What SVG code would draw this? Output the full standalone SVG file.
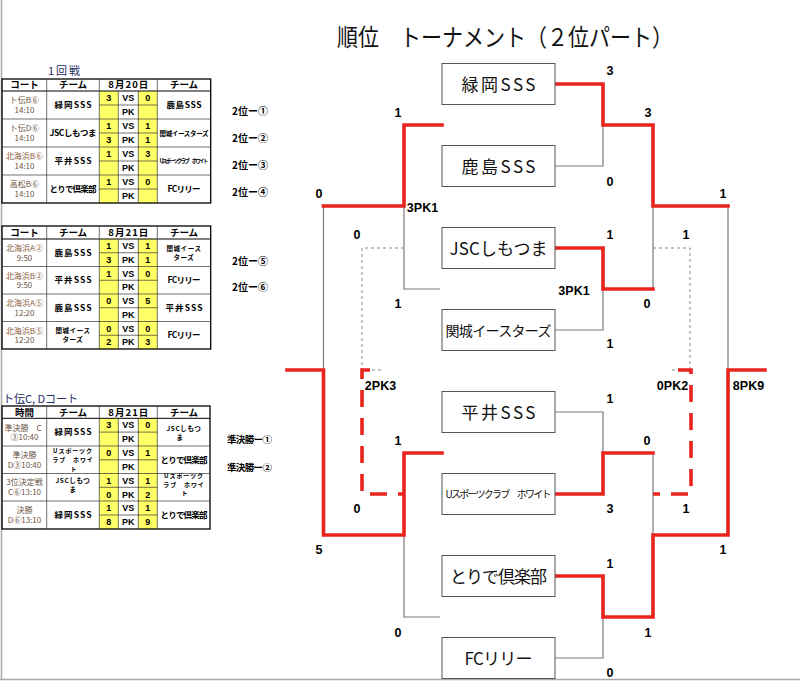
<svg xmlns="http://www.w3.org/2000/svg" width="800" height="684" viewBox="0 0 800 684">
<style>
.bg{fill:#fff}
.frame{stroke:#aaa;stroke-width:1.5;fill:none}
.box{fill:#fff;stroke:#555;stroke-width:1}
.bt{font-family:"Noto Sans CJK JP","Noto Sans",sans-serif;font-size:17px;fill:#111;text-anchor:middle}
.g{fill:none;stroke:#7a7a7a;stroke-width:1.2}
.r{fill:none;stroke:#e8241c;stroke-width:3.6;stroke-linejoin:miter;stroke-linecap:square}
.gd{fill:none;stroke:#888;stroke-width:1;stroke-dasharray:3 3}
.rd{fill:none;stroke:#e8241c;stroke-width:3.6;stroke-dasharray:17 11}
.lb{font-family:"Liberation Sans",Arial,sans-serif;font-weight:bold;font-size:12.5px;text-anchor:middle;fill:#000}
.ttl{font-family:"Noto Sans CJK JP","Noto Sans",sans-serif;font-size:24px;fill:#111}
.side{font-family:"Noto Sans CJK JP",sans-serif;font-weight:bold;font-size:10px;fill:#000}
.cap{font-family:"Noto Sans CJK JP",sans-serif;font-size:11px;fill:#1c2c60}
.yl{fill:#ffff66}
.ob{fill:none;stroke:#000;stroke-width:1.3}
.il{stroke:#333;stroke-width:0.7}
.hd{font-family:"Noto Sans CJK JP",sans-serif;font-weight:bold;font-size:9.5px;text-anchor:middle;fill:#000}
.ct{font-family:"Noto Sans CJK JP",sans-serif;font-size:8px;text-anchor:middle;fill:#6b5444}
.tm{font-family:"Noto Sans CJK JP",sans-serif;font-weight:bold;font-size:8.5px;text-anchor:middle;fill:#000}
.tm2{font-family:"Noto Sans CJK JP",sans-serif;font-weight:bold;font-size:6.5px;letter-spacing:0.6px;text-anchor:middle;fill:#000}
.tm3{font-family:"Noto Sans CJK JP",sans-serif;font-weight:bold;font-size:6px;letter-spacing:0.9px;text-anchor:middle;fill:#000}
.sc{font-family:"Liberation Sans",Arial,sans-serif;font-weight:bold;font-size:9px;text-anchor:middle;fill:#000}
</style>
<rect class="bg" x="0" y="0" width="800" height="684"/>
<g id="frame">
<line class="frame" x1="1.5" y1="0" x2="1.5" y2="680"/>
<line class="frame" x1="0" y1="679.5" x2="800" y2="679.5"/>
</g>
<g id="title"><text class="ttl" x="337" y="46" textLength="336" lengthAdjust="spacingAndGlyphs">順位　トーナメント（２位パート）</text></g>

<g id="table1">
<text class="cap" x="48" y="75" textLength="32">1回戦</text>
<rect class="yl" x="99.3" y="91" width="19" height="112"/>
<rect class="yl" x="138.3" y="91" width="19" height="112"/>
<rect class="ob" x="2" y="79" width="208.7" height="124"/>
<line x1="2" y1="91" x2="210.7" y2="91" stroke="#000" stroke-width="1"/>
<g class="il">
<line x1="46.7" y1="79" x2="46.7" y2="203"/><line x1="99.3" y1="79" x2="99.3" y2="203"/><line x1="157.3" y1="79" x2="157.3" y2="203"/>
<line x1="118.3" y1="91" x2="118.3" y2="203"/><line x1="138.3" y1="91" x2="138.3" y2="203"/>
<line x1="2" y1="119" x2="210.7" y2="119"/><line x1="2" y1="147" x2="210.7" y2="147"/><line x1="2" y1="175" x2="210.7" y2="175"/>
<line x1="99.3" y1="105" x2="157.3" y2="105"/><line x1="99.3" y1="133" x2="157.3" y2="133"/><line x1="99.3" y1="161" x2="157.3" y2="161"/><line x1="99.3" y1="189" x2="157.3" y2="189"/>
</g>
<text class="hd" x="24.5" y="88.4">コート</text><text class="hd" x="73" y="88.4">チーム</text><text class="hd" x="128.3" y="88.4" textLength="40">8月20日</text><text class="hd" x="184" y="88.4">チーム</text>
<text class="ct" x="24.5" y="102.5">ト伝B⑥<tspan x="24.5" dy="10.5">14:10</tspan></text>
<text class="tm" x="73" y="108" textLength="37">緑岡SSS</text>
<text class="sc" x="108.8" y="101.2">3</text><text class="sc" x="128.3" y="101.2">VS</text><text class="sc" x="147.8" y="101.2">0</text>
<text class="sc" x="128.3" y="115.2">PK</text>
<text class="tm" x="184" y="108" textLength="35">鹿島SSS</text>
<text class="ct" x="24.5" y="130.5">ト伝D⑥<tspan x="24.5" dy="10.5">14:10</tspan></text>
<text class="tm" x="73" y="136" textLength="47">JSCしもつま</text>
<text class="sc" x="108.8" y="129.2">1</text><text class="sc" x="128.3" y="129.2">VS</text><text class="sc" x="147.8" y="129.2">1</text>
<text class="sc" x="108.8" y="143.2">3</text><text class="sc" x="128.3" y="143.2">PK</text><text class="sc" x="147.8" y="143.2">1</text>
<text class="tm" x="184" y="135.5" style="font-size:6.5px" textLength="49">関城イースターズ</text>
<text class="ct" x="24.5" y="158.5"><tspan style="fill:#8a5a3a">北海浜B⑥</tspan><tspan x="24.5" dy="10.5">14:10</tspan></text>
<text class="tm" x="73" y="164" textLength="37">平井SSS</text>
<text class="sc" x="108.8" y="157.2">1</text><text class="sc" x="128.3" y="157.2">VS</text><text class="sc" x="147.8" y="157.2">3</text>
<text class="sc" x="128.3" y="171.2">PK</text>
<text class="tm" x="184" y="163" style="font-size:5.5px" textLength="49">Uスポーツクラブ　ホワイト</text>
<text class="ct" x="24.5" y="186.5">高松B⑥<tspan x="24.5" dy="10.5">14:10</tspan></text>
<text class="tm" x="73" y="192" textLength="47">とりで倶楽部</text>
<text class="sc" x="108.8" y="185.2">1</text><text class="sc" x="128.3" y="185.2">VS</text><text class="sc" x="147.8" y="185.2">0</text>
<text class="sc" x="128.3" y="199.2">PK</text>
<text class="tm" x="184" y="192" textLength="33">FCリリー</text>
</g>

<g id="table2">
<rect class="yl" x="99.3" y="239" width="19" height="110"/>
<rect class="yl" x="138.3" y="239" width="19" height="110"/>
<rect class="ob" x="2" y="226" width="208.7" height="123"/>
<line x1="2" y1="239" x2="210.7" y2="239" stroke="#000" stroke-width="1"/>
<g class="il">
<line x1="46.7" y1="226" x2="46.7" y2="349"/><line x1="99.3" y1="226" x2="99.3" y2="349"/><line x1="157.3" y1="226" x2="157.3" y2="349"/>
<line x1="118.3" y1="239" x2="118.3" y2="349"/><line x1="138.3" y1="239" x2="138.3" y2="349"/>
<line x1="2" y1="266.5" x2="210.7" y2="266.5"/><line x1="2" y1="294" x2="210.7" y2="294"/><line x1="2" y1="321.5" x2="210.7" y2="321.5"/>
<line x1="99.3" y1="252.75" x2="157.3" y2="252.75"/><line x1="99.3" y1="280.25" x2="157.3" y2="280.25"/><line x1="99.3" y1="307.75" x2="157.3" y2="307.75"/><line x1="99.3" y1="335.25" x2="157.3" y2="335.25"/>
</g>
<text class="hd" x="24.5" y="236">コート</text><text class="hd" x="73" y="236">チーム</text><text class="hd" x="128.3" y="236" textLength="40">8月21日</text><text class="hd" x="184" y="236">チーム</text>
<text class="ct" x="24.5" y="251.4"><tspan style="fill:#8a5a3a">北海浜A②</tspan><tspan x="24.5" dy="9.5">9:50</tspan></text>
<text class="tm" x="73" y="255.8" textLength="37">鹿島SSS</text>
<text class="sc" x="108.8" y="249.1">1</text><text class="sc" x="128.3" y="249.1">VS</text><text class="sc" x="147.8" y="249.1">1</text>
<text class="sc" x="108.8" y="262.8">3</text><text class="sc" x="128.3" y="262.8">PK</text><text class="sc" x="147.8" y="262.8">1</text>
<text class="tm2" x="184" y="250.8">関城イース<tspan x="184" dy="9.5">ターズ</tspan></text>
<text class="ct" x="24.5" y="278.9"><tspan style="fill:#8a5a3a">北海浜B②</tspan><tspan x="24.5" dy="9.5">9:50</tspan></text>
<text class="tm" x="73" y="283.3" textLength="37">平井SSS</text>
<text class="sc" x="108.8" y="276.6">1</text><text class="sc" x="128.3" y="276.6">VS</text><text class="sc" x="147.8" y="276.6">0</text>
<text class="sc" x="128.3" y="290.3">PK</text>
<text class="tm" x="184" y="283.3" textLength="33">FCリリー</text>
<text class="ct" x="24.5" y="306.4"><tspan style="fill:#8a5a3a">北海浜A⑤</tspan><tspan x="24.5" dy="9.5">12:20</tspan></text>
<text class="tm" x="73" y="310.8" textLength="37">鹿島SSS</text>
<text class="sc" x="108.8" y="304.1">0</text><text class="sc" x="128.3" y="304.1">VS</text><text class="sc" x="147.8" y="304.1">5</text>
<text class="sc" x="128.3" y="317.8">PK</text>
<text class="tm" x="184" y="310.8" textLength="37">平井SSS</text>
<text class="ct" x="24.5" y="333.9"><tspan style="fill:#8a5a3a">北海浜B⑤</tspan><tspan x="24.5" dy="9.5">12:20</tspan></text>
<text class="tm2" x="73" y="332.8">関城イース<tspan x="73" dy="9.5">ターズ</tspan></text>
<text class="sc" x="108.8" y="331.6">0</text><text class="sc" x="128.3" y="331.6">VS</text><text class="sc" x="147.8" y="331.6">0</text>
<text class="sc" x="108.8" y="345.3">2</text><text class="sc" x="128.3" y="345.3">PK</text><text class="sc" x="147.8" y="345.3">3</text>
<text class="tm" x="184" y="338.3" textLength="33">FCリリー</text>
</g>

<g id="table3">
<text class="cap" x="3" y="402.5">ト伝C, Dコート</text>
<rect class="yl" x="99.3" y="418.3" width="19" height="110.7"/>
<rect class="yl" x="138.3" y="418.3" width="19" height="110.7"/>
<rect class="ob" x="2" y="406" width="208" height="123"/>
<line x1="2" y1="418.3" x2="210" y2="418.3" stroke="#000" stroke-width="1"/>
<g class="il">
<line x1="46.7" y1="406" x2="46.7" y2="529"/><line x1="99.3" y1="406" x2="99.3" y2="529"/><line x1="157.3" y1="406" x2="157.3" y2="529"/>
<line x1="118.3" y1="418.3" x2="118.3" y2="529"/><line x1="138.3" y1="418.3" x2="138.3" y2="529"/>
<line x1="2" y1="446" x2="210" y2="446"/><line x1="2" y1="473.5" x2="210" y2="473.5"/><line x1="2" y1="501" x2="210" y2="501"/>
<line x1="99.3" y1="432.1" x2="157.3" y2="432.1"/><line x1="99.3" y1="459.8" x2="157.3" y2="459.8"/><line x1="99.3" y1="487.3" x2="157.3" y2="487.3"/><line x1="99.3" y1="515" x2="157.3" y2="515"/>
</g>
<text class="hd" x="24.5" y="415.5">時間</text><text class="hd" x="73" y="415.5">チーム</text><text class="hd" x="128.3" y="415.5" textLength="40">8月21日</text><text class="hd" x="184" y="415.5">チーム</text>
<text class="ct" x="23" y="430.6">準決勝　C<tspan x="24.5" dy="9.6">③10:40</tspan></text>
<text class="tm" x="73" y="435" textLength="37">緑岡SSS</text>
<text class="sc" x="108.8" y="428.4">3</text><text class="sc" x="128.3" y="428.4">VS</text><text class="sc" x="147.8" y="428.4">0</text>
<text class="sc" x="128.3" y="442.2">PK</text>
<text class="tm2" x="184" y="430.8">JSCしもつ<tspan x="180" dy="9.5">ま</tspan></text>
<text class="ct" x="24.5" y="457.9">準決勝<tspan x="24.5" dy="10">D③10:40</tspan></text>
<text class="tm3" x="73" y="453.3">Uスポーツク<tspan x="73" dy="8.7">ラブ　ホワイ</tspan><tspan x="74" dy="8.7">ト</tspan></text>
<text class="sc" x="108.8" y="456.2">0</text><text class="sc" x="128.3" y="456.2">VS</text><text class="sc" x="147.8" y="456.2">1</text>
<text class="sc" x="128.3" y="470.2">PK</text>
<text class="tm" x="184" y="463" textLength="47">とりで倶楽部</text>
<text class="ct" x="24.5" y="485.2">3位決定戦<tspan x="24.5" dy="10">C⑥13:10</tspan></text>
<text class="tm2" x="73" y="482.8">JSCしもつ<tspan x="73" dy="9.5">ま</tspan></text>
<text class="sc" x="108.8" y="483.7">1</text><text class="sc" x="128.3" y="483.7">VS</text><text class="sc" x="147.8" y="483.7">1</text>
<text class="sc" x="108.8" y="497.7">0</text><text class="sc" x="128.3" y="497.7">PK</text><text class="sc" x="147.8" y="497.7">2</text>
<text class="tm3" x="184" y="478">Uスポーツク<tspan x="184" dy="8.7">ラブ　ホワイ</tspan><tspan x="185" dy="8.7">ト</tspan></text>
<text class="ct" x="24.5" y="512.9">決勝<tspan x="24.5" dy="10">D⑥13:10</tspan></text>
<text class="tm" x="73" y="518" textLength="37">緑岡SSS</text>
<text class="sc" x="108.8" y="511.2">1</text><text class="sc" x="128.3" y="511.2">VS</text><text class="sc" x="147.8" y="511.2">1</text>
<text class="sc" x="108.8" y="525.2">8</text><text class="sc" x="128.3" y="525.2">PK</text><text class="sc" x="147.8" y="525.2">9</text>
<text class="tm" x="184" y="518" textLength="47">とりで倶楽部</text>
</g>

<g id="side-labels">
<text class="side" x="232" y="115">2位ー①</text>
<text class="side" x="232" y="142">2位ー②</text>
<text class="side" x="232" y="169">2位ー③</text>
<text class="side" x="232" y="196">2位ー④</text>
<text class="side" x="232" y="264.5">2位ー⑤</text>
<text class="side" x="232" y="290.5">2位ー⑥</text>
<text class="side" x="227" y="442.5" textLength="45" style="font-size:9.5px">準決勝ー①</text>
<text class="side" x="227" y="470.5" textLength="45" style="font-size:9.5px">準決勝ー②</text>
</g>

<g id="connectors">
<path class="g" d="M555,166H603V125"/>
<path class="g" d="M555,330H603V289"/>
<path class="g" d="M653,206V289"/>
<path class="g" d="M728,206V370"/>
<path class="g" d="M555,412H603V453"/>
<path class="g" d="M653,453V535"/>
<path class="g" d="M555,658H603V617"/>
<path class="g" d="M404,206V289H440"/>
<path class="g" d="M323.5,206V370"/>
<path class="g" d="M404,535V617H440"/>
<path class="gd" d="M404,248H362V370H384"/>
<path class="gd" d="M653,248H690V370H672"/>
<path class="r" d="M555,84H603V125H653V206H728"/>
<path class="r" d="M555,248H603V289H653"/>
<path class="r" d="M555,494H603V453H653"/>
<path class="r" d="M555,576H603V617H653V535H728V370H765"/>
<path class="r" d="M442,125H404V206H323.5"/>
<path class="r" d="M287,370H323.5V535H404V453H442"/>
<path class="rd" d="M370,370H362V494H404"/>
<path class="rd" d="M678,370H691V494H653"/>
</g>

<g id="node-midorioka"><rect class="box" x="442" y="63.5" width="113" height="41"/><text class="bt" x="498.5" y="90.5" textLength="74">緑岡SSS</text></g>
<g id="node-kashima"><rect class="box" x="442" y="145.5" width="113" height="41"/><text class="bt" x="498.5" y="172.5" textLength="74">鹿島SSS</text></g>
<g id="node-jsc"><rect class="box" x="442" y="227.5" width="113" height="41"/><text class="bt" x="498.5" y="254.5" textLength="98">JSCしもつま</text></g>
<g id="node-sekijo"><rect class="box" x="442" y="309.5" width="113" height="41"/><text class="bt" x="498.5" y="335.5" style="font-size:14px" textLength="106">関城イースターズ</text></g>
<g id="node-hirai"><rect class="box" x="442" y="391.5" width="113" height="41"/><text class="bt" x="498.5" y="418.5" textLength="74">平井SSS</text></g>
<g id="node-usports"><rect class="box" x="442" y="473.5" width="113" height="41"/><text class="bt" x="498.5" y="497.5" style="font-size:10px" textLength="106">Uスポーツクラブ　ホワイト</text></g>
<g id="node-toride"><rect class="box" x="442" y="555.5" width="113" height="41"/><text class="bt" x="498.5" y="582.5" textLength="97">とりで倶楽部</text></g>
<g id="node-fc"><rect class="box" x="442" y="637.5" width="113" height="41"/><text class="bt" x="498.5" y="664.5" textLength="68">FCリリー</text></g>

<g id="scores">
<text class="lb" x="610" y="74.5">3</text>
<text class="lb" x="648" y="116.5">3</text>
<text class="lb" x="610" y="185.5">0</text>
<text class="lb" x="723" y="197.5">1</text>
<text class="lb" x="610" y="238.5">1</text>
<text class="lb" x="686" y="238.5">1</text>
<text class="lb" x="574" y="294.5">3PK1</text>
<text class="lb" x="647" y="307.5">0</text>
<text class="lb" x="610" y="347.5">1</text>
<text class="lb" x="672.5" y="389.5">0PK2</text>
<text class="lb" x="748.5" y="389.5">8PK9</text>
<text class="lb" x="610" y="402.5">1</text>
<text class="lb" x="647" y="444.5">0</text>
<text class="lb" x="610" y="512.5">3</text>
<text class="lb" x="686" y="512.5">1</text>
<text class="lb" x="723" y="553.5">1</text>
<text class="lb" x="610" y="567.5">1</text>
<text class="lb" x="648" y="636.5">1</text>
<text class="lb" x="610" y="677">0</text>
<text class="lb" x="398" y="116.5">1</text>
<text class="lb" x="319" y="197.5">0</text>
<text class="lb" x="422.5" y="211.5">3PK1</text>
<text class="lb" x="357" y="238.5">0</text>
<text class="lb" x="398" y="307.5">1</text>
<text class="lb" x="380.5" y="389.5">2PK3</text>
<text class="lb" x="398" y="444.5">1</text>
<text class="lb" x="357" y="512.5">0</text>
<text class="lb" x="319" y="553.5">5</text>
<text class="lb" x="398" y="636.5">0</text>
</g>
</svg>
